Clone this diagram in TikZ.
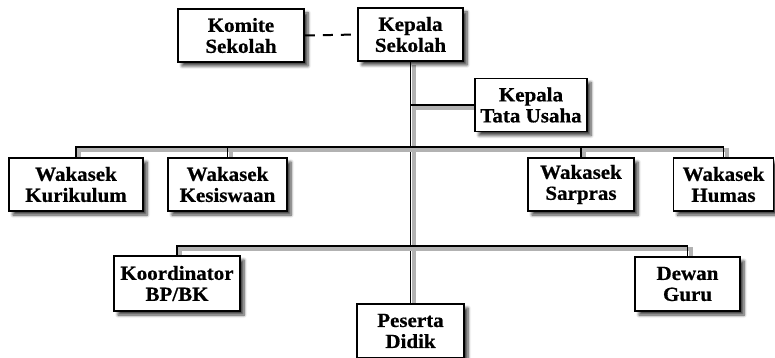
\documentclass[tikz,border=0pt]{standalone}
\usepackage{fontspec}
\setmainfont{Liberation Serif}[FakeStretch=1.05,FakeBold=0.6]
\usetikzlibrary{shadows.blur,backgrounds}

\begin{document}
\begin{tikzpicture}[x=1pt,y=-1pt,font=\fontsize{20}{21}\selectfont\bfseries]
		\tikzstyle{jabatan}=[rectangle, draw=black, line width=1.8pt, fill=white, align=center, minimum height=53pt, inner sep=0pt, blur shadow={shadow xshift=4pt, shadow yshift=-4pt, shadow blur radius=3pt, shadow blur steps=6, shadow opacity=75}]
		\tikzstyle{garis}=[line width=1.8pt, preaction={draw=black!30, line width=4pt, transform canvas={shift={(3pt,-3pt)}}}]
		\tikzstyle{putus}=[line width=2pt, dash pattern=on 10pt off 8pt]

		\useasboundingbox (0,0) rectangle (775,358);

		\node [jabatan, minimum width=105pt] (kepsek) at (410.5,34.5) {Kepala\\Sekolah};
		\node [jabatan, minimum width=126pt] (komite) at (241,35.5) {Komite\\Sekolah};
		\node [jabatan, minimum width=112pt] (ktu) at (531,105) {Kepala\\Tata Usaha};
		\node [jabatan, minimum width=134pt] (kurikulum) at (76,184.5) {Wakasek\\Kurikulum};
		\node [jabatan, minimum width=119pt] (kesiswaan) at (227.5,184.5) {Wakasek\\Kesiswaan};
		\node [jabatan, minimum width=106pt] (sarpras) at (581,184.5) {Wakasek\\Sarpras};
		\node [jabatan, minimum width=100pt] (humas) at (723.5,184.5) {Wakasek\\Humas};
		\node [jabatan, minimum width=126pt, minimum height=55pt] (koordinator) at (177,283.5) {Koordinator\\BP/BK};
		\node [jabatan, minimum width=105pt, minimum height=54pt] (dewan) at (687.5,284) {Dewan\\Guru};
		\node [jabatan, minimum width=107pt, minimum height=54pt] (peserta) at (410.5,331) {Peserta\\Didik};

		\coordinate (wakasek) at (0,147);
		\coordinate (pembina) at (0,246);

		\begin{scope}[on background layer]
		\draw [putus] (komite.east) -- (kepsek.west);
		\draw [garis] (kepsek.south) -- (peserta.north);
		\draw [garis] (kepsek.south |- ktu.west) -- (ktu.west);
		\draw [garis] (kurikulum.north) -- (kurikulum.north |- wakasek) -- (humas.north |- wakasek) -- (humas.north);
		\draw [garis] (kesiswaan.north) -- (kesiswaan.north |- wakasek);
		\draw [garis] (sarpras.north) -- (sarpras.north |- wakasek);
		\draw [garis] (koordinator.north) -- (koordinator.north |- pembina) -- (dewan.north |- pembina) -- (dewan.north);
		\end{scope}
	\end{tikzpicture}
\end{document}
